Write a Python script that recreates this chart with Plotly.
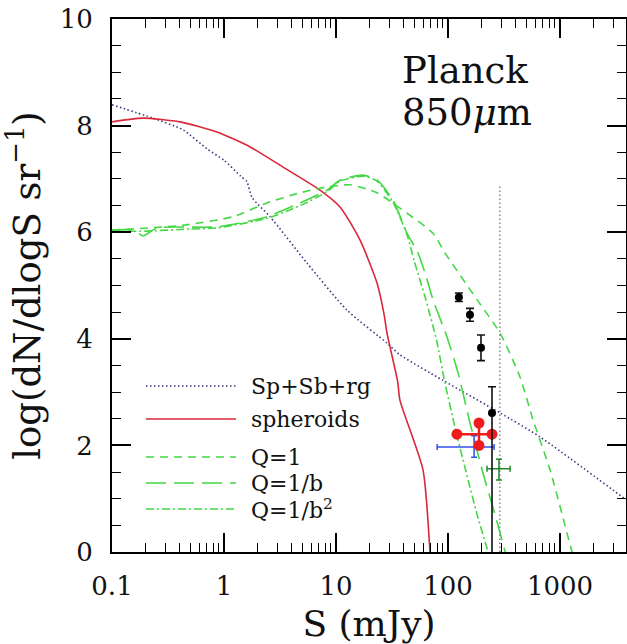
import plotly.graph_objects as go

# ---------------- data (S in mJy, y = log(dN/dlogS sr^-1)) ----------------
tot_S = [0.1, 0.232, 0.431, 0.708, 1.0, 1.41, 1.60, 1.78, 2.58, 5.51, 12.5, 28.5, 37.2, 90.2, 291, 662, 3880]
tot_y = [8.39, 8.14, 7.92, 7.56, 7.35, 7.05, 6.95, 6.65, 6.29, 5.42, 4.54, 3.92, 3.70, 3.22, 2.61, 2.16, 0.98]

sph_S = [0.1, 0.189, 0.405, 0.866, 1.71, 3.37, 7.19, 10.9, 16.4, 23.2, 26.9, 28.5, 35.5, 37.2, 59.8, 69.0, 70.8]
sph_y = [8.07, 8.14, 8.07, 7.88, 7.60, 7.22, 6.79, 6.47, 5.85, 5.05, 4.45, 4.11, 3.20, 2.85, 1.54, 0.0, -0.5]

q1_S = [0.1, 0.431, 1.20, 2.42, 4.78, 8.32, 13.3, 23.2, 37.2, 73.5, 94, 182, 291, 440, 574, 815, 1280, 1410]
q1_y = [6.04, 6.13, 6.29, 6.55, 6.74, 6.85, 6.89, 6.74, 6.45, 5.98, 5.61, 4.73, 4.11, 3.28, 2.48, 1.54, 0.0, -0.3]

qb_S = [0.1, 0.155, 0.189, 0.252, 0.866, 2.42, 4.78, 8.32, 10.9, 17.4, 23.2, 32.3, 43.1, 53.7, 63.1, 73.5, 98, 123, 158, 204, 263, 324, 355]
qb_y = [6.04, 6.04, 5.93, 6.08, 6.10, 6.29, 6.55, 6.79, 6.98, 7.07, 6.98, 6.60, 5.98, 5.62, 5.20, 4.73, 4.03, 3.36, 2.40, 1.50, 0.70, 0.0, -0.3]

qb2_S = [0.1, 0.2, 0.5, 0.866, 2.42, 4.78, 8.32, 10.9, 17.4, 23.2, 32.3, 43.1, 50.1, 63.1, 79.4, 93.3, 115, 145, 182, 228, 251]
qb2_y = [6.02, 6.02, 6.06, 6.08, 6.26, 6.50, 6.76, 6.96, 7.05, 6.96, 6.56, 5.95, 5.45, 4.75, 3.95, 3.20, 2.35, 1.50, 0.70, 0.0, -0.3]

# observational points
blk_S = [125, 157, 197, 247]
blk_y = [4.78, 4.45, 3.83, 2.61]
blk_eup = [0.08, 0.12, 0.24, 0.49]
blk_edn = [0.08, 0.12, 0.24, 3.0]

red_S, red_y = [189], [2.21]
red_exp, red_exm = [58], [69]
red_ey = [0.21]

blu_S, blu_y = [171], [1.97]
blu_exp, blu_exm = [87], [91]
blu_eyp, blu_eym = [0.21], [0.19]

grn_S, grn_y = [285], [1.56]
grn_exp, grn_exm = [73], [62]
grn_eyp, grn_eym = [0.18], [0.21]

vline_S = [290, 290]
vline_y = [0.0, 6.9]

x_ticks = [0.1, 1, 10, 100, 1000]
x_ticktext = ["0.1", "1", "10", "100", "1000"]
y_ticks = [0, 2, 4, 6, 8, 10]

legend_labels = ["Sp+Sb+rg", "spheroids", "Q=1", "Q=1/b", "Q=1/b<sup>2</sup>"]

# ---------------- styles ----------------
SERIF = "DejaVu Serif"
C_TOT = "#3a3a80"
C_SPH = "#d8283a"
C_GRN = "#44d844"
DASH_TOT = "1.5px,2.5px"
DASH_Q1 = "8px,6px"
DASH_QB = "20px,8px"
DASH_QB2 = "8px,3px,2px,3px"
styles = [(C_TOT, DASH_TOT), (C_SPH, "solid"), (C_GRN, DASH_Q1), (C_GRN, DASH_QB), (C_GRN, DASH_QB2)]

fig = go.Figure()

def curve(S, y, color, dash, width=1.6):
    fig.add_trace(go.Scatter(x=S, y=y, mode="lines", showlegend=False, hoverinfo="skip",
                             line=dict(color=color, dash=dash, width=width, shape="spline", smoothing=0.6)))

curve(tot_S, tot_y, C_TOT, DASH_TOT, 1.6)
curve(sph_S, sph_y, C_SPH, "solid", 1.6)
curve(q1_S, q1_y, C_GRN, DASH_Q1, 1.6)
curve(qb_S, qb_y, C_GRN, DASH_QB, 1.6)
curve(qb2_S, qb2_y, C_GRN, DASH_QB2, 1.6)

fig.add_trace(go.Scatter(x=vline_S, y=vline_y, mode="lines", showlegend=False,
                         line=dict(color="#888888", dash="1.5px,2.5px", width=1.5)))

# blue
fig.add_trace(go.Scatter(x=blu_S, y=blu_y, mode="markers", showlegend=False,
                         marker=dict(size=2, color="#3050e8"),
                         error_x=dict(type="data", array=blu_exp, arrayminus=blu_exm, color="#3050e8", thickness=1.5, width=3),
                         error_y=dict(type="data", array=blu_eyp, arrayminus=blu_eym, color="#3050e8", thickness=1.5, width=3)))
# green
fig.add_trace(go.Scatter(x=grn_S, y=grn_y, mode="markers", showlegend=False,
                         marker=dict(size=2, color="#1f8a2a"),
                         error_x=dict(type="data", array=grn_exp, arrayminus=grn_exm, color="#1f8a2a", thickness=1.5, width=3),
                         error_y=dict(type="data", array=grn_eyp, arrayminus=grn_eym, color="#1f8a2a", thickness=1.5, width=3)))
# red cross
fig.add_trace(go.Scatter(x=red_S, y=red_y, mode="markers", showlegend=False,
                         marker=dict(size=1, color="#ee1c1c"),
                         error_x=dict(type="data", array=red_exp, arrayminus=red_exm, color="#ee1c1c", thickness=2.5, width=0),
                         error_y=dict(type="data", array=red_ey, arrayminus=red_ey, color="#ee1c1c", thickness=2.5, width=0)))
end_x = [red_S[0] - red_exm[0], red_S[0] + red_exp[0], red_S[0], red_S[0]]
end_y = [red_y[0], red_y[0], red_y[0] + red_ey[0], red_y[0] - red_ey[0]]
fig.add_trace(go.Scatter(x=end_x, y=end_y, mode="markers", showlegend=False,
                         marker=dict(size=11, color="#ee1c1c")))
# black
fig.add_trace(go.Scatter(x=blk_S, y=blk_y, mode="markers", showlegend=False,
                         marker=dict(size=8, color="black"),
                         error_y=dict(type="data", array=blk_eup, arrayminus=blk_edn, color="#111111", thickness=1.6, width=4)))

# ---------------- legend (drawn by hand) ----------------
L, B, W, H = 112, 552, 514, 533
def px(xp): return (xp - L) / W
def py(yp): return (B - yp) / H
leg_rows = [386, 419, 457, 483, 509]
shapes = []
annotations = []
for (col, dash), lab, yy in zip(styles, legend_labels, leg_rows):
    shapes.append(dict(type="line", xref="paper", yref="paper", x0=px(146), x1=px(236), y0=py(yy), y1=py(yy),
                       line=dict(color=col, dash=dash, width=1.6)))
    annotations.append(dict(xref="paper", yref="paper", x=px(249), y=py(yy), text=lab, showarrow=False,
                            xanchor="left", yanchor="middle", font=dict(family=SERIF, size=22, color="#111")))

annotations.append(dict(xref="paper", yref="paper", x=px(400), y=py(71), text="Planck", showarrow=False,
                        xanchor="left", yanchor="middle", font=dict(family=SERIF, size=37, color="#111")))
annotations.append(dict(xref="paper", yref="paper", x=px(400), y=py(113), text="850<i>μ</i>m", showarrow=False,
                        xanchor="left", yanchor="middle", font=dict(family=SERIF, size=37, color="#111")))

minor_x = [k * 10 ** n for n in range(-1, 4) for k in range(2, 10)]

axis_common = dict(showline=True, linecolor="black", linewidth=2, mirror="ticks", ticks="inside",
                   ticklen=19, tickwidth=1.5, tickcolor="black", showgrid=False, zeroline=False,
                   tickfont=dict(family=SERIF, size=26, color="#111"))

fig.update_layout(
    width=627, height=644,
    margin=dict(l=112, r=1, t=19, b=92),
    paper_bgcolor="white", plot_bgcolor="white",
    shapes=shapes, annotations=annotations,
    xaxis=dict(type="log", range=[-1, 3.589], tickmode="array", tickvals=x_ticks, ticktext=x_ticktext,
               minor=dict(ticks="inside", ticklen=9, tickwidth=1.3, tickcolor="black", tickmode="array",
                          tickvals=minor_x, showgrid=False),
               title=dict(text="S (mJy)", font=dict(family=SERIF, size=36, color="#111"), standoff=18),
               ticklabelstandoff=10, automargin=False, **axis_common),
    yaxis=dict(range=[0, 10], tickmode="array", tickvals=y_ticks,
               minor=dict(ticks="inside", ticklen=9, tickwidth=1.3, tickcolor="black", dtick=0.5, tick0=0,
                          showgrid=False),
               title=dict(text="log(dN/dlogS sr<sup>−1</sup>)", font=dict(family=SERIF, size=37, color="#111"),
                          standoff=9),
               ticklabelstandoff=12, automargin=False, **axis_common),
)

fig.write_html("out.html")
